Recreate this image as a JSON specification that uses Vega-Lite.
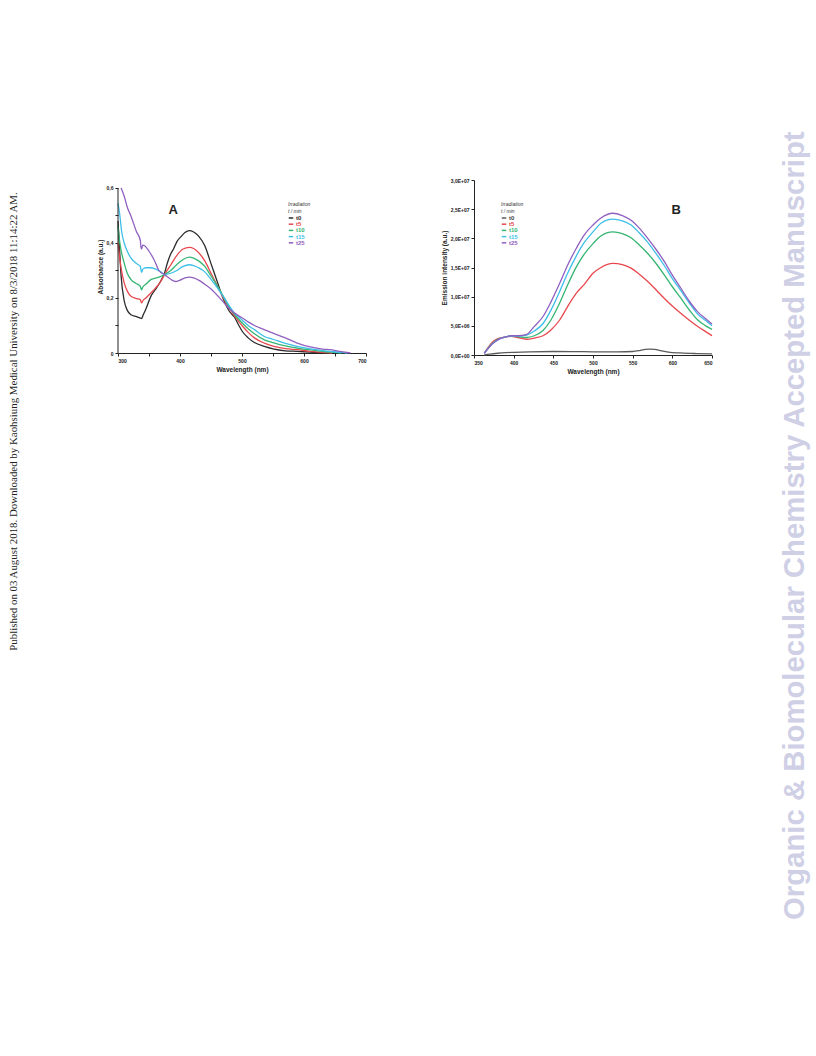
{
  "$schema": "https://vega.github.io/schema/vega-lite/v6.json",
  "background": "white",
  "padding": {"left": 8, "top": 130, "right": 5, "bottom": 5},
  "title": {
    "text": "Organic & Biomolecular Chemistry Accepted Manuscript",
    "orient": "right",
    "anchor": "middle",
    "angle": -90,
    "font": "Liberation Sans",
    "fontSize": 29.3,
    "fontWeight": "bold",
    "color": "#cfcfe6",
    "offset": 37,
    "dx": -111
  },
  "config": {
    "font": "Liberation Sans",
    "view": {"stroke": null},
    "axis": {
      "grid": false,
      "domainColor": "#222",
      "tickColor": "#222",
      "tickSize": 3,
      "labelFontSize": 5,
      "labelFontWeight": "bold",
      "labelColor": "#222",
      "labelPadding": 2,
      "labelOverlap": false,
      "titleFontSize": 6.5,
      "titleFontWeight": "bold",
      "titleColor": "#222",
      "titlePadding": 3
    },
    "legend": {
      "orient": "none",
      "symbolType": "stroke",
      "symbolSize": 20,
      "symbolStrokeWidth": 1.5,
      "symbolOffset": 0,
      "labelFontSize": 6,
      "labelFontWeight": "bold",
      "labelOffset": 2,
      "rowPadding": 0.2,
      "titleFontSize": 5,
      "titleFontWeight": "normal",
      "titleFontStyle": "italic",
      "titleColor": "#333",
      "titlePadding": 1,
      "titleLineHeight": 7
    }
  },
  "resolve": {"scale": {"color": "independent"}, "legend": {"color": "independent"}},
  "spacing": 74,
  "datasets": {
    "absorb": [
      {"w": 300, "abs": 0.48, "s": "t0"}, {"w": 302, "abs": 0.40, "s": "t0"}, {"w": 305, "abs": 0.28, "s": "t0"}, {"w": 310, "abs": 0.19, "s": "t0"}, {"w": 315, "abs": 0.155, "s": "t0"}, {"w": 321, "abs": 0.139, "s": "t0"}, {"w": 330, "abs": 0.132, "s": "t0"}, {"w": 336, "abs": 0.127, "s": "t0"}, {"w": 338, "abs": 0.125, "s": "t0"}, {"w": 340, "abs": 0.135, "s": "t0"}, {"w": 345, "abs": 0.16, "s": "t0"}, {"w": 353, "abs": 0.206, "s": "t0"}, {"w": 360, "abs": 0.23, "s": "t0"}, {"w": 369, "abs": 0.262, "s": "t0"}, {"w": 375, "abs": 0.29, "s": "t0"}, {"w": 380, "abs": 0.33, "s": "t0"}, {"w": 385, "abs": 0.36, "s": "t0"}, {"w": 390, "abs": 0.38, "s": "t0"}, {"w": 395, "abs": 0.405, "s": "t0"}, {"w": 402, "abs": 0.424, "s": "t0"}, {"w": 408, "abs": 0.438, "s": "t0"}, {"w": 415, "abs": 0.445, "s": "t0"}, {"w": 422, "abs": 0.44, "s": "t0"}, {"w": 430, "abs": 0.425, "s": "t0"}, {"w": 440, "abs": 0.39, "s": "t0"}, {"w": 450, "abs": 0.325, "s": "t0"}, {"w": 460, "abs": 0.26, "s": "t0"}, {"w": 470, "abs": 0.195, "s": "t0"}, {"w": 480, "abs": 0.15, "s": "t0"}, {"w": 488, "abs": 0.13, "s": "t0"}, {"w": 495, "abs": 0.1, "s": "t0"}, {"w": 500, "abs": 0.08, "s": "t0"}, {"w": 510, "abs": 0.055, "s": "t0"}, {"w": 520, "abs": 0.038, "s": "t0"}, {"w": 536, "abs": 0.024, "s": "t0"}, {"w": 550, "abs": 0.015, "s": "t0"}, {"w": 570, "abs": 0.008, "s": "t0"}, {"w": 589, "abs": 0.006, "s": "t0"}, {"w": 610, "abs": 0.003, "s": "t0"}, {"w": 640, "abs": 0.0, "s": "t0"},
      {"w": 300, "abs": 0.40, "s": "t5"}, {"w": 303, "abs": 0.34, "s": "t5"}, {"w": 310, "abs": 0.255, "s": "t5"}, {"w": 315, "abs": 0.225, "s": "t5"}, {"w": 321, "abs": 0.206, "s": "t5"}, {"w": 330, "abs": 0.198, "s": "t5"}, {"w": 336, "abs": 0.194, "s": "t5"}, {"w": 338, "abs": 0.182, "s": "t5"}, {"w": 340, "abs": 0.19, "s": "t5"}, {"w": 345, "abs": 0.2, "s": "t5"}, {"w": 353, "abs": 0.218, "s": "t5"}, {"w": 360, "abs": 0.235, "s": "t5"}, {"w": 369, "abs": 0.26, "s": "t5"}, {"w": 375, "abs": 0.285, "s": "t5"}, {"w": 385, "abs": 0.32, "s": "t5"}, {"w": 395, "abs": 0.355, "s": "t5"}, {"w": 405, "abs": 0.378, "s": "t5"}, {"w": 415, "abs": 0.384, "s": "t5"}, {"w": 422, "abs": 0.38, "s": "t5"}, {"w": 430, "abs": 0.365, "s": "t5"}, {"w": 440, "abs": 0.335, "s": "t5"}, {"w": 450, "abs": 0.29, "s": "t5"}, {"w": 460, "abs": 0.245, "s": "t5"}, {"w": 470, "abs": 0.2, "s": "t5"}, {"w": 480, "abs": 0.16, "s": "t5"}, {"w": 488, "abs": 0.135, "s": "t5"}, {"w": 500, "abs": 0.1, "s": "t5"}, {"w": 510, "abs": 0.075, "s": "t5"}, {"w": 520, "abs": 0.055, "s": "t5"}, {"w": 536, "abs": 0.036, "s": "t5"}, {"w": 550, "abs": 0.025, "s": "t5"}, {"w": 570, "abs": 0.016, "s": "t5"}, {"w": 589, "abs": 0.012, "s": "t5"}, {"w": 610, "abs": 0.006, "s": "t5"}, {"w": 630, "abs": 0.002, "s": "t5"}, {"w": 645, "abs": 0.0, "s": "t5"},
      {"w": 300, "abs": 0.46, "s": "t10"}, {"w": 303, "abs": 0.40, "s": "t10"}, {"w": 310, "abs": 0.327, "s": "t10"}, {"w": 315, "abs": 0.29, "s": "t10"}, {"w": 321, "abs": 0.267, "s": "t10"}, {"w": 330, "abs": 0.252, "s": "t10"}, {"w": 336, "abs": 0.242, "s": "t10"}, {"w": 338, "abs": 0.23, "s": "t10"}, {"w": 340, "abs": 0.24, "s": "t10"}, {"w": 345, "abs": 0.25, "s": "t10"}, {"w": 353, "abs": 0.267, "s": "t10"}, {"w": 360, "abs": 0.272, "s": "t10"}, {"w": 369, "abs": 0.279, "s": "t10"}, {"w": 375, "abs": 0.285, "s": "t10"}, {"w": 385, "abs": 0.3, "s": "t10"}, {"w": 395, "abs": 0.322, "s": "t10"}, {"w": 405, "abs": 0.34, "s": "t10"}, {"w": 415, "abs": 0.349, "s": "t10"}, {"w": 422, "abs": 0.345, "s": "t10"}, {"w": 430, "abs": 0.335, "s": "t10"}, {"w": 440, "abs": 0.315, "s": "t10"}, {"w": 450, "abs": 0.28, "s": "t10"}, {"w": 460, "abs": 0.245, "s": "t10"}, {"w": 470, "abs": 0.205, "s": "t10"}, {"w": 480, "abs": 0.165, "s": "t10"}, {"w": 488, "abs": 0.14, "s": "t10"}, {"w": 500, "abs": 0.11, "s": "t10"}, {"w": 510, "abs": 0.088, "s": "t10"}, {"w": 520, "abs": 0.07, "s": "t10"}, {"w": 536, "abs": 0.048, "s": "t10"}, {"w": 550, "abs": 0.038, "s": "t10"}, {"w": 570, "abs": 0.026, "s": "t10"}, {"w": 589, "abs": 0.018, "s": "t10"}, {"w": 610, "abs": 0.011, "s": "t10"}, {"w": 630, "abs": 0.006, "s": "t10"}, {"w": 643, "abs": 0.003, "s": "t10"}, {"w": 660, "abs": 0.0, "s": "t10"},
      {"w": 300, "abs": 0.545, "s": "t15"}, {"w": 303, "abs": 0.50, "s": "t15"}, {"w": 306, "abs": 0.44, "s": "t15"}, {"w": 310, "abs": 0.40, "s": "t15"}, {"w": 315, "abs": 0.37, "s": "t15"}, {"w": 321, "abs": 0.345, "s": "t15"}, {"w": 330, "abs": 0.325, "s": "t15"}, {"w": 336, "abs": 0.315, "s": "t15"}, {"w": 338, "abs": 0.293, "s": "t15"}, {"w": 340, "abs": 0.305, "s": "t15"}, {"w": 345, "abs": 0.31, "s": "t15"}, {"w": 353, "abs": 0.31, "s": "t15"}, {"w": 360, "abs": 0.306, "s": "t15"}, {"w": 369, "abs": 0.295, "s": "t15"}, {"w": 375, "abs": 0.285, "s": "t15"}, {"w": 385, "abs": 0.29, "s": "t15"}, {"w": 395, "abs": 0.3, "s": "t15"}, {"w": 405, "abs": 0.315, "s": "t15"}, {"w": 415, "abs": 0.321, "s": "t15"}, {"w": 422, "abs": 0.318, "s": "t15"}, {"w": 430, "abs": 0.31, "s": "t15"}, {"w": 440, "abs": 0.295, "s": "t15"}, {"w": 450, "abs": 0.268, "s": "t15"}, {"w": 460, "abs": 0.238, "s": "t15"}, {"w": 470, "abs": 0.205, "s": "t15"}, {"w": 480, "abs": 0.17, "s": "t15"}, {"w": 488, "abs": 0.145, "s": "t15"}, {"w": 500, "abs": 0.12, "s": "t15"}, {"w": 510, "abs": 0.1, "s": "t15"}, {"w": 520, "abs": 0.085, "s": "t15"}, {"w": 536, "abs": 0.06, "s": "t15"}, {"w": 550, "abs": 0.05, "s": "t15"}, {"w": 570, "abs": 0.035, "s": "t15"}, {"w": 589, "abs": 0.024, "s": "t15"}, {"w": 610, "abs": 0.015, "s": "t15"}, {"w": 630, "abs": 0.009, "s": "t15"}, {"w": 643, "abs": 0.006, "s": "t15"}, {"w": 660, "abs": 0.002, "s": "t15"}, {"w": 670, "abs": 0.0, "s": "t15"},
      {"w": 305, "abs": 0.6, "s": "t25"}, {"w": 310, "abs": 0.57, "s": "t25"}, {"w": 315, "abs": 0.53, "s": "t25"}, {"w": 321, "abs": 0.497, "s": "t25"}, {"w": 330, "abs": 0.44, "s": "t25"}, {"w": 336, "abs": 0.41, "s": "t25"}, {"w": 337, "abs": 0.385, "s": "t25"}, {"w": 338, "abs": 0.378, "s": "t25"}, {"w": 340, "abs": 0.392, "s": "t25"}, {"w": 343, "abs": 0.39, "s": "t25"}, {"w": 350, "abs": 0.37, "s": "t25"}, {"w": 358, "abs": 0.34, "s": "t25"}, {"w": 366, "abs": 0.3, "s": "t25"}, {"w": 375, "abs": 0.285, "s": "t25"}, {"w": 385, "abs": 0.268, "s": "t25"}, {"w": 393, "abs": 0.26, "s": "t25"}, {"w": 400, "abs": 0.265, "s": "t25"}, {"w": 408, "abs": 0.273, "s": "t25"}, {"w": 415, "abs": 0.276, "s": "t25"}, {"w": 422, "abs": 0.273, "s": "t25"}, {"w": 430, "abs": 0.265, "s": "t25"}, {"w": 440, "abs": 0.25, "s": "t25"}, {"w": 450, "abs": 0.233, "s": "t25"}, {"w": 460, "abs": 0.21, "s": "t25"}, {"w": 470, "abs": 0.185, "s": "t25"}, {"w": 480, "abs": 0.16, "s": "t25"}, {"w": 488, "abs": 0.145, "s": "t25"}, {"w": 500, "abs": 0.128, "s": "t25"}, {"w": 510, "abs": 0.113, "s": "t25"}, {"w": 520, "abs": 0.1, "s": "t25"}, {"w": 536, "abs": 0.085, "s": "t25"}, {"w": 550, "abs": 0.072, "s": "t25"}, {"w": 570, "abs": 0.055, "s": "t25"}, {"w": 589, "abs": 0.036, "s": "t25"}, {"w": 610, "abs": 0.022, "s": "t25"}, {"w": 630, "abs": 0.014, "s": "t25"}, {"w": 643, "abs": 0.012, "s": "t25"}, {"w": 660, "abs": 0.005, "s": "t25"}, {"w": 675, "abs": 0.0, "s": "t25"}
    ],
    "emit": [
      {"w": 363, "I": 0, "s": "t0"}, {"w": 370, "I": 150000, "s": "t0"}, {"w": 380, "I": 300000, "s": "t0"}, {"w": 390, "I": 400000, "s": "t0"}, {"w": 400, "I": 460000, "s": "t0"}, {"w": 420, "I": 550000, "s": "t0"}, {"w": 450, "I": 600000, "s": "t0"}, {"w": 480, "I": 580000, "s": "t0"}, {"w": 500, "I": 550000, "s": "t0"}, {"w": 530, "I": 550000, "s": "t0"}, {"w": 550, "I": 600000, "s": "t0"}, {"w": 560, "I": 800000, "s": "t0"}, {"w": 566, "I": 950000, "s": "t0"}, {"w": 572, "I": 1000000, "s": "t0"}, {"w": 578, "I": 950000, "s": "t0"}, {"w": 585, "I": 750000, "s": "t0"}, {"w": 595, "I": 500000, "s": "t0"}, {"w": 610, "I": 350000, "s": "t0"}, {"w": 630, "I": 250000, "s": "t0"}, {"w": 650, "I": 200000, "s": "t0"},
      {"w": 363, "I": 300000, "s": "t5"}, {"w": 374, "I": 2300000, "s": "t5"}, {"w": 380, "I": 2800000, "s": "t5"}, {"w": 390, "I": 3100000, "s": "t5"}, {"w": 397, "I": 3200000, "s": "t5"}, {"w": 405, "I": 3000000, "s": "t5"}, {"w": 416, "I": 2700000, "s": "t5"}, {"w": 426, "I": 2900000, "s": "t5"}, {"w": 437, "I": 3300000, "s": "t5"}, {"w": 447, "I": 4300000, "s": "t5"}, {"w": 458, "I": 6000000, "s": "t5"}, {"w": 468, "I": 8300000, "s": "t5"}, {"w": 479, "I": 10600000, "s": "t5"}, {"w": 489, "I": 12100000, "s": "t5"}, {"w": 500, "I": 14000000, "s": "t5"}, {"w": 510, "I": 15000000, "s": "t5"}, {"w": 525, "I": 15700000, "s": "t5"}, {"w": 537, "I": 15500000, "s": "t5"}, {"w": 548, "I": 14900000, "s": "t5"}, {"w": 558, "I": 13900000, "s": "t5"}, {"w": 569, "I": 12600000, "s": "t5"}, {"w": 580, "I": 11100000, "s": "t5"}, {"w": 590, "I": 9700000, "s": "t5"}, {"w": 600, "I": 8400000, "s": "t5"}, {"w": 611, "I": 7100000, "s": "t5"}, {"w": 621, "I": 6000000, "s": "t5"}, {"w": 632, "I": 4900000, "s": "t5"}, {"w": 642, "I": 4000000, "s": "t5"}, {"w": 650, "I": 3300000, "s": "t5"},
      {"w": 363, "I": 300000, "s": "t10"}, {"w": 374, "I": 2100000, "s": "t10"}, {"w": 380, "I": 2700000, "s": "t10"}, {"w": 390, "I": 3100000, "s": "t10"}, {"w": 397, "I": 3300000, "s": "t10"}, {"w": 405, "I": 3150000, "s": "t10"}, {"w": 416, "I": 3000000, "s": "t10"}, {"w": 426, "I": 3300000, "s": "t10"}, {"w": 437, "I": 4200000, "s": "t10"}, {"w": 447, "I": 6000000, "s": "t10"}, {"w": 458, "I": 8900000, "s": "t10"}, {"w": 468, "I": 12000000, "s": "t10"}, {"w": 479, "I": 15100000, "s": "t10"}, {"w": 489, "I": 17300000, "s": "t10"}, {"w": 500, "I": 19100000, "s": "t10"}, {"w": 510, "I": 20400000, "s": "t10"}, {"w": 525, "I": 21100000, "s": "t10"}, {"w": 537, "I": 20800000, "s": "t10"}, {"w": 548, "I": 20100000, "s": "t10"}, {"w": 558, "I": 18900000, "s": "t10"}, {"w": 569, "I": 17400000, "s": "t10"}, {"w": 580, "I": 15600000, "s": "t10"}, {"w": 590, "I": 13700000, "s": "t10"}, {"w": 600, "I": 11700000, "s": "t10"}, {"w": 611, "I": 9700000, "s": "t10"}, {"w": 621, "I": 7800000, "s": "t10"}, {"w": 632, "I": 6000000, "s": "t10"}, {"w": 642, "I": 5000000, "s": "t10"}, {"w": 650, "I": 4400000, "s": "t10"},
      {"w": 363, "I": 300000, "s": "t15"}, {"w": 374, "I": 2000000, "s": "t15"}, {"w": 380, "I": 2600000, "s": "t15"}, {"w": 390, "I": 3100000, "s": "t15"}, {"w": 397, "I": 3300000, "s": "t15"}, {"w": 405, "I": 3250000, "s": "t15"}, {"w": 416, "I": 3400000, "s": "t15"}, {"w": 426, "I": 4100000, "s": "t15"}, {"w": 437, "I": 5400000, "s": "t15"}, {"w": 447, "I": 7700000, "s": "t15"}, {"w": 458, "I": 10900000, "s": "t15"}, {"w": 468, "I": 14000000, "s": "t15"}, {"w": 479, "I": 17000000, "s": "t15"}, {"w": 489, "I": 19300000, "s": "t15"}, {"w": 500, "I": 21100000, "s": "t15"}, {"w": 510, "I": 22600000, "s": "t15"}, {"w": 525, "I": 23300000, "s": "t15"}, {"w": 537, "I": 23000000, "s": "t15"}, {"w": 548, "I": 22300000, "s": "t15"}, {"w": 558, "I": 21000000, "s": "t15"}, {"w": 569, "I": 19300000, "s": "t15"}, {"w": 580, "I": 17300000, "s": "t15"}, {"w": 590, "I": 15300000, "s": "t15"}, {"w": 600, "I": 13100000, "s": "t15"}, {"w": 611, "I": 11000000, "s": "t15"}, {"w": 621, "I": 9000000, "s": "t15"}, {"w": 632, "I": 7000000, "s": "t15"}, {"w": 642, "I": 5900000, "s": "t15"}, {"w": 650, "I": 5000000, "s": "t15"},
      {"w": 363, "I": 300000, "s": "t25"}, {"w": 374, "I": 2000000, "s": "t25"}, {"w": 380, "I": 2600000, "s": "t25"}, {"w": 390, "I": 3100000, "s": "t25"}, {"w": 397, "I": 3300000, "s": "t25"}, {"w": 405, "I": 3300000, "s": "t25"}, {"w": 416, "I": 3500000, "s": "t25"}, {"w": 426, "I": 4900000, "s": "t25"}, {"w": 437, "I": 6600000, "s": "t25"}, {"w": 447, "I": 9100000, "s": "t25"}, {"w": 458, "I": 12300000, "s": "t25"}, {"w": 468, "I": 15400000, "s": "t25"}, {"w": 479, "I": 18300000, "s": "t25"}, {"w": 489, "I": 20600000, "s": "t25"}, {"w": 500, "I": 22300000, "s": "t25"}, {"w": 510, "I": 23500000, "s": "t25"}, {"w": 525, "I": 24300000, "s": "t25"}, {"w": 537, "I": 23900000, "s": "t25"}, {"w": 548, "I": 23100000, "s": "t25"}, {"w": 558, "I": 21800000, "s": "t25"}, {"w": 569, "I": 20000000, "s": "t25"}, {"w": 580, "I": 18000000, "s": "t25"}, {"w": 590, "I": 16000000, "s": "t25"}, {"w": 600, "I": 13700000, "s": "t25"}, {"w": 611, "I": 11400000, "s": "t25"}, {"w": 621, "I": 9300000, "s": "t25"}, {"w": 632, "I": 7400000, "s": "t25"}, {"w": 642, "I": 6200000, "s": "t25"}, {"w": 650, "I": 5300000, "s": "t25"}
    ],
    "labelsA": [{"w": 389, "abs": 0.52, "label": "A"}],
    "axisA": [{"w": 300, "lo": 0, "hi": 0.6}],
    "labelsB": [{"w": 605, "I": 24800000, "label": "B"}]
  },
  "hconcat": [
    {
      "width": 248,
      "height": 173,
      "title": {
        "text": "Published on 03 August 2018. Downloaded by Kaohsiung Medical University on 8/3/2018 11:14:22 AM.",
        "orient": "left",
        "anchor": "middle",
        "font": "Liberation Serif",
        "fontSize": 10.9,
        "fontWeight": "normal",
        "color": "#222",
        "offset": 78,
        "dx": -155
      },
      "layer": [
        {
          "data": {"name": "absorb"},
          "mark": {"type": "line", "strokeWidth": 1.3, "interpolate": "monotone"},
          "encoding": {
            "x": {"field": "w", "type": "quantitative", "scale": {"domain": [300, 700], "nice": false},
                  "axis": {"title": "Wavelength (nm)", "labelOverlap": false, "tickCount": 40, "values": [300, 350, 400, 450, 500, 550, 600, 650, 700],
                           "labelExpr": "datum.value % 100 == 0 ? datum.label : ''"}},
            "y": {"field": "abs", "type": "quantitative", "scale": {"domain": [0, 0.62909], "nice": false, "zero": true},
                  "axis": {"title": "Absorbance (a.u.)", "domain": false, "labelOverlap": false, "tickCount": 40, "values": [0, 0.1, 0.2, 0.3, 0.4, 0.5, 0.6],
                           "labelExpr": "datum.value == 0 ? '0' : (round(datum.value * 10) % 2 == 0 ? replace(format(datum.value, '.1f'), '.', ',') : '')"}},
            "color": {"field": "s", "type": "nominal", "sort": ["t0", "t5", "t10", "t15", "t25"],
                      "scale": {"domain": ["t0", "t5", "t10", "t15", "t25"], "range": ["#2b2b2b", "#e8484d", "#35b572", "#3dbfe8", "#9060c0"]},
                      "legend": {"title": ["Irradiation", "t / min"], "legendX": 170, "legendY": 22,
                                 "encode": {"labels": {"update": {"fill": {"signal": "datum.value == 't0' ? '#2b2b2b' : datum.value == 't5' ? '#e8484d' : datum.value == 't10' ? '#35b572' : datum.value == 't15' ? '#3dbfe8' : '#9060c0'"}}}}}}
          }
        },
        {
          "data": {"name": "axisA"},
          "mark": {"type": "rule", "color": "#222", "strokeWidth": 1},
          "encoding": {
            "x": {"field": "w", "type": "quantitative"},
            "y": {"field": "lo", "type": "quantitative"},
            "y2": {"field": "hi"}
          }
        },
        {
          "data": {"name": "labelsA"},
          "mark": {"type": "text", "fontSize": 13, "fontWeight": "bold", "color": "#222"},
          "encoding": {
            "x": {"field": "w", "type": "quantitative"},
            "y": {"field": "abs", "type": "quantitative"},
            "text": {"field": "label"}
          }
        }
      ]
    },
    {
      "width": 238,
      "height": 175,
      "layer": [
        {
          "data": {"name": "emit"},
          "mark": {"type": "line", "strokeWidth": 1.3, "interpolate": "monotone"},
          "encoding": {
            "x": {"field": "w", "type": "quantitative", "scale": {"domain": [350, 650], "nice": false},
                  "axis": {"title": "Wavelength (nm)", "labelOverlap": false, "tickCount": 40, "values": [350, 400, 450, 500, 550, 600, 650]}},
            "y": {"field": "I", "type": "quantitative", "scale": {"domain": [0, 30000000], "nice": false},
                  "axis": {"title": "Emission intensity (a.u.)", "labelOverlap": false, "tickCount": 40, "values": [0, 5000000, 10000000, 15000000, 20000000, 25000000, 30000000],
                           "labelExpr": "replace(replace(format(datum.value, '.1e'), '.', ','), 'e+', 'E+0')"}},
            "color": {"field": "s", "type": "nominal", "sort": ["t0", "t5", "t10", "t15", "t25"],
                      "scale": {"domain": ["t0", "t5", "t10", "t15", "t25"], "range": ["#5a5a5a", "#e8484d", "#35b572", "#3dbfe8", "#9060c0"]},
                      "legend": {"title": ["Irradiation", "t / min"], "legendX": 27, "legendY": 22,
                                 "encode": {"labels": {"update": {"fill": {"signal": "datum.value == 't0' ? '#444444' : datum.value == 't5' ? '#e8484d' : datum.value == 't10' ? '#35b572' : datum.value == 't15' ? '#3dbfe8' : '#9060c0'"}}}}}}
          }
        },
        {
          "data": {"name": "labelsB"},
          "mark": {"type": "text", "fontSize": 13, "fontWeight": "bold", "color": "#222"},
          "encoding": {
            "x": {"field": "w", "type": "quantitative"},
            "y": {"field": "I", "type": "quantitative"},
            "text": {"field": "label"}
          }
        }
      ]
    }
  ]
}
